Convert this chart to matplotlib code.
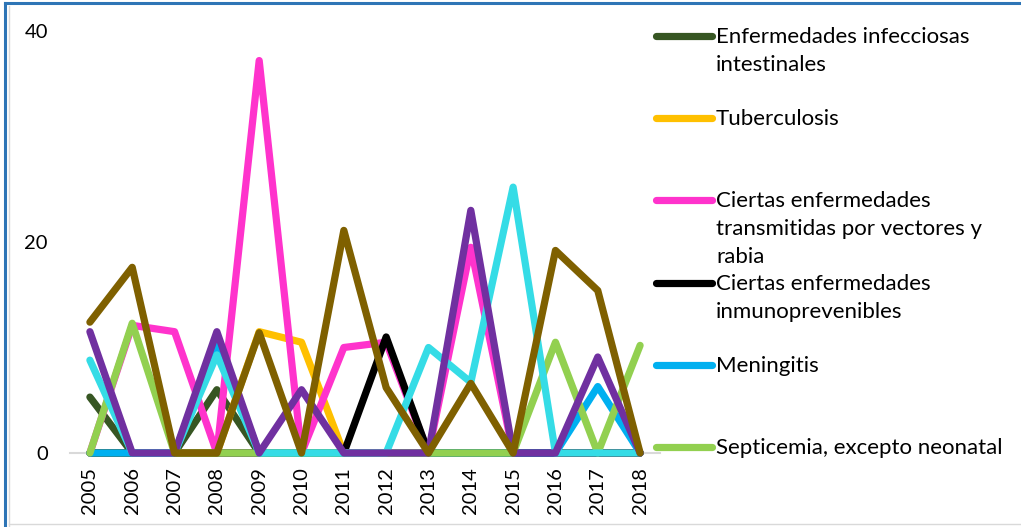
import matplotlib
matplotlib.use("Agg")
import matplotlib.pyplot as plt
from matplotlib.lines import Line2D
import numpy as np

plt.rcParams['font.family'] = ['Lato', 'DejaVu Sans']

years = ['2005', '2006', '2007', '2008', '2009', '2010', '2011', '2012',
         '2013', '2014', '2015', '2016', '2017', '2018']

intestinales = [5.3, 0, 0, 6.0, 0, 0, 0, 0, 0, 0, 0, 0, 0, 0]
tuberculosis = [0, 0, 0, 0, 11.5, 10.5, 0, 0, 0, 0, 0, 0, 0, 0]
vectores = [0, 12.1, 11.5, 0, 37.2, 0, 10.0, 10.5, 0, 19.5, 0, 0, 0, 0]
inmunoprev = [0, 0, 0, 0, 0, 0, 0, 11.0, 0, 0, 0, 0, 0, 0]
meningitis = [0, 0, 0, 10.5, 0, 0, 0, 0, 0, 0, 0, 0, 6.3, 0]
septicemia = [0, 12.3, 0, 0, 0, 0, 0, 0, 0, 0, 0, 10.5, 0, 10.2]
serie_cian = [8.8, 0, 0, 9.3, 0, 0, 0, 0, 10.0, 6.7, 25.2, 0, 0, 0]
serie_morada = [11.5, 0, 0, 11.5, 0, 6.0, 0, 0, 0, 23.0, 0, 0, 9.1, 0]
serie_cafe = [12.4, 17.6, 0, 0, 11.4, 0, 21.1, 6.2, 0, 6.6, 0, 19.2, 15.4, 0]

legend_labels = [
    "Enfermedades infecciosas\nintestinales",
    "Tuberculosis",
    "Ciertas enfermedades\ntransmitidas por vectores y\nrabia",
    "Ciertas enfermedades\ninmunoprevenibles",
    "Meningitis",
    "Septicemia, excepto neonatal",
]

series = [
    (intestinales, '#375623', 0),
    (tuberculosis, '#FFC000', 1),
    (vectores, '#FF33CC', 2),
    (inmunoprev, '#000000', 3),
    (meningitis, '#00B0F0', 4),
    (septicemia, '#92D050', 5),
    (serie_cian, '#35DCE6', None),
    (serie_morada, '#7030A0', None),
    (serie_cafe, '#7F6000', None),
]

W, H = 1021, 527
fig = plt.figure(figsize=(W / 100, H / 100), dpi=100)
ax = fig.add_axes([70 / W, 1 - 453 / H, (660 - 70) / W, (453 - 31) / H])

x = np.arange(len(years))
for vals, col, _ in series:
    ax.plot(x, vals, color=col, lw=5.2, solid_capstyle='round',
            solid_joinstyle='round', zorder=3, clip_on=False)

ax.set_xlim(-0.47, len(years) - 1 + 0.47)
ax.set_ylim(0, 40)
ax.set_yticks([0, 20, 40])
ax.set_xticks(x)
ax.set_xticklabels(years, rotation=90)
ax.tick_params(axis='x', length=0, pad=10, labelsize=14.5)
ax.tick_params(axis='y', length=0, pad=16, labelsize=14.5)
for s in ['top', 'right', 'left']:
    ax.spines[s].set_visible(False)
ax.spines['bottom'].set_color('#D9D9D9')
ax.spines['bottom'].set_linewidth(1.5)
ax.spines['bottom'].set_zorder(1)

# legend (manual, Excel-like even spacing)
y0 = 36
step = 82.2
for i, (vals, col, li) in enumerate([s for s in series if s[2] is not None]):
    yc = y0 + step * i
    fy = 1 - yc / H
    fig.add_artist(Line2D([656 / W, 712 / W], [fy, fy], color=col, lw=5.2,
                          solid_capstyle='round', transform=fig.transFigure))
    fig.text(716 / W, 1 - (yc - 9) / H, legend_labels[li], fontsize=16,
             va='top', ha='left', linespacing=1.5)

# chart area border
fig.add_artist(Line2D([5 / W, 1.0], [1 - 3 / H, 1 - 3 / H], color='#2E75B6', lw=2.2,
                      transform=fig.transFigure))
fig.add_artist(Line2D([5 / W, 5 / W], [0, 1 - 3 / H], color='#2E75B6', lw=2.2,
                      transform=fig.transFigure))
fig.add_artist(Line2D([9 / W, 9 / W], [0, 1 - 6 / H], color='#D9D9D9', lw=1,
                      transform=fig.transFigure))
fig.add_artist(Line2D([9 / W, 1.0], [1 - 524 / H, 1 - 524 / H], color='#D9D9D9', lw=1,
                      transform=fig.transFigure))

fig.savefig('out.png', dpi=100)
